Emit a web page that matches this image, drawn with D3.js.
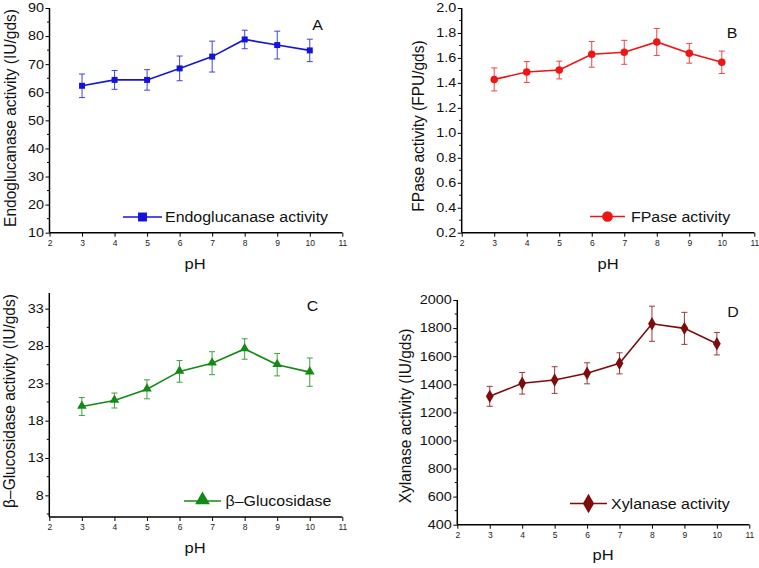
<!DOCTYPE html>
<html><head><meta charset="utf-8">
<script src="https://cdn.jsdelivr.net/npm/d3@7"></script>
<style>
body{margin:0;background:#fff;}
svg{display:block;font-family:"Liberation Sans",Arial,sans-serif;}
</style></head>
<body>
<svg id="c" width="759" height="568"></svg>
<script>
const pH = [3,4,5,6,7,8,9,10];
const xTicks = [2,3,4,5,6,7,8,9,10,11];

const endoMean = [62.3,64.4,64.4,68.5,72.7,78.8,76.8,74.9];
const endoErr  = [4.2,3.35,3.65,4.4,5.5,3.3,4.95,4.0];
const endoTicks = [10,20,30,40,50,60,70,80,90];

const fpMean = [1.428,1.487,1.503,1.629,1.645,1.728,1.637,1.565];
const fpErr  = [0.092,0.084,0.071,0.103,0.096,0.108,0.079,0.09];
const fpTicks = [0.2,0.4,0.6,0.8,1.0,1.2,1.4,1.6,1.8,2.0];

const bgMean = [19.9,20.7,22.2,24.6,25.7,27.6,25.5,24.5];
const bgErr  = [1.2,1.0,1.27,1.45,1.54,1.37,1.5,1.9];
const bgTicks = [8,13,18,23,28,33];

const xyMean = [1314,1407,1430,1478,1549,1831,1798,1689];
const xyErr  = [71,77,95,75,75,125,114,80];
const xyTicks = [400,600,800,1000,1200,1400,1600,1800,2000];

const panels = [
  {mean:endoMean, err:endoErr, ticks:endoTicks, dom:[10,90], fmt:d3.format("d"),
   L:49.5, R:342.3, T:8, B:232.7, color:"#1414d8", marker:"square",
   ylab:"Endoglucanase activity (IU/gds)", ylx:11.5, yly:118,
   phx:195, phy:269, letter:"A", lx:317.5, ly:30,
   leg:{x1:123, x2:162, y:217, tx:165, label:"Endoglucanase activity"}},
  {mean:fpMean, err:fpErr, ticks:fpTicks, dom:[0.2,2.0], fmt:d3.format(".1f"),
   L:461.7, R:754.3, T:8, B:232.7, color:"#ee1515", marker:"circle",
   ylab:"FPase activity (FPU/gds)", ylx:420, yly:126,
   phx:608, phy:269, letter:"B", lx:732, ly:38,
   leg:{x1:590, x2:625, y:216.5, tx:631, label:"FPase activity"}},
  {mean:bgMean, err:bgErr, ticks:bgTicks, dom:[5.1,35.1], fmt:d3.format("d"),
   L:49.3, R:342.3, T:293, B:517, color:"#138a13", marker:"triangle",
   ylab:"β–Glucosidase activity (IU/gds)", ylx:11, yly:401,
   phx:195, phy:553, letter:"C", lx:312.5, ly:310.5,
   leg:{x1:184, x2:221, y:501, tx:225.5, label:"β–Glucosidase"}},
  {mean:xyMean, err:xyErr, ticks:xyTicks, dom:[400,2000], fmt:d3.format("d"),
   L:457.3, R:749.3, T:300, B:524.7, color:"#7d0c0c", marker:"diamond",
   ylab:"Xylanase activity (IU/gds)", ylx:407, yly:416,
   phx:603, phy:560, letter:"D", lx:733, ly:316.5,
   leg:{x1:570, x2:607, y:503.5, tx:611, label:"Xylanase activity"}}
];

const svg = d3.select("#c");
const symTypes = {square:d3.symbolSquare, circle:d3.symbolCircle, triangle:d3.symbolTriangle, diamond:d3.symbolDiamond};
const symSize = {square:36, circle:44, triangle:40, diamond:52};
const legSize = {square:80, circle:90, triangle:95, diamond:110};
const TICK_SX = 1.2, TEXT_SX = 1.1;

panels.forEach(p => {
  const g = svg.append("g");
  const x = d3.scaleLinear().domain([2,11]).range([p.L,p.R]);
  const y = d3.scaleLinear().domain(p.dom).range([p.B,p.T]);

  // minor y ticks
  const step = p.ticks[1]-p.ticks[0];
  const minor = [];
  for (let v = p.ticks[0]-step/2; v <= p.dom[1]+1e-9; v += step) {
    if (v >= p.dom[0]-1e-9) minor.push(v);
  }
  g.append("g").selectAll("line").data(minor).join("line")
    .attr("x1", p.L-2.5).attr("x2", p.L).attr("y1", d=>y(d)).attr("y2", d=>y(d))
    .attr("stroke","#000").attr("stroke-width",1);

  // y axis
  const ya = g.append("g").attr("transform",`translate(${p.L},0)`)
    .call(d3.axisLeft(y).tickValues(p.ticks).tickFormat(p.fmt).tickSize(4).tickPadding(1.5));
  ya.select(".domain").attr("stroke-width",1.5).attr("d",`M0,${p.B}V${p.T}`);
  ya.selectAll(".tick line").attr("stroke-width",1);
  ya.selectAll("text").attr("font-size",12).attr("font-family","Liberation Sans, Arial, sans-serif")
    .attr("fill","#111").attr("x",-5.5/TICK_SX).attr("transform",`scale(${TICK_SX},1)`);

  // x axis
  const xa = g.append("g").attr("transform",`translate(0,${p.B})`)
    .call(d3.axisBottom(x).tickValues(xTicks).tickFormat(d3.format("d")).tickSize(4).tickPadding(3));
  xa.select(".domain").attr("stroke-width",1.5).attr("d",`M${p.L},0H${p.R}`);
  xa.selectAll(".tick line").attr("stroke-width",1);
  xa.selectAll("text").attr("font-size",8.5).attr("font-family","Liberation Sans, Arial, sans-serif").attr("fill","#222");

  // axis titles
  g.append("text").attr("transform",`translate(${p.ylx},${p.yly}) rotate(-90) scale(1,${TEXT_SX})`)
    .attr("text-anchor","middle").attr("dominant-baseline","middle")
    .attr("font-size",15.5).attr("fill","#111").text(p.ylab);
  g.append("text").attr("transform",`translate(${p.phx},${p.phy}) scale(${TEXT_SX},1)`).attr("text-anchor","middle")
    .attr("font-size",15).attr("fill","#111").text("pH");
  g.append("text").attr("transform",`translate(${p.lx},${p.ly}) scale(${TEXT_SX},1)`).attr("text-anchor","middle")
    .attr("font-size",14.5).attr("fill","#111").text(p.letter);

  // error bars
  const eb = g.append("g").attr("stroke",p.color).attr("stroke-width",1).attr("opacity",0.8);
  pH.forEach((ph,i) => {
    const cx = x(ph), y1 = y(p.mean[i]+p.err[i]), y2 = y(p.mean[i]-p.err[i]);
    eb.append("line").attr("x1",cx).attr("x2",cx).attr("y1",y1).attr("y2",y2);
    eb.append("line").attr("x1",cx-3).attr("x2",cx+3).attr("y1",y1).attr("y2",y1);
    eb.append("line").attr("x1",cx-3).attr("x2",cx+3).attr("y1",y2).attr("y2",y2);
  });

  // line
  const line = d3.line().x((d,i)=>x(pH[i])).y(d=>y(d));
  g.append("path").datum(p.mean).attr("d",line).attr("fill","none")
    .attr("stroke",p.color).attr("stroke-width",1.6);

  // markers
  const sym = d3.symbol().type(symTypes[p.marker]).size(symSize[p.marker]);
  g.append("g").selectAll("path").data(p.mean).join("path")
    .attr("d",sym)
    .attr("transform",(d,i)=>`translate(${x(pH[i])},${y(d)})${p.marker==="triangle"?" translate(0,-0.5)":""}`)
    .attr("fill",p.color);

  // legend
  const lg = g.append("g");
  lg.append("line").attr("x1",p.leg.x1).attr("x2",p.leg.x2).attr("y1",p.leg.y).attr("y2",p.leg.y)
    .attr("stroke",p.color).attr("stroke-width",1.6);
  lg.append("path").attr("d",d3.symbol().type(symTypes[p.marker]).size(legSize[p.marker])())
    .attr("transform",`translate(${(p.leg.x1+p.leg.x2)/2},${p.leg.y - (p.marker==="triangle"?1:0)})`)
    .attr("fill",p.color);
  lg.append("text").attr("transform",`translate(${p.leg.tx},${p.leg.y}) scale(${TEXT_SX},1)`)
    .attr("dominant-baseline","central")
    .attr("font-size",14.5).attr("fill","#111").text(p.leg.label);
});
</script>
</body></html>
